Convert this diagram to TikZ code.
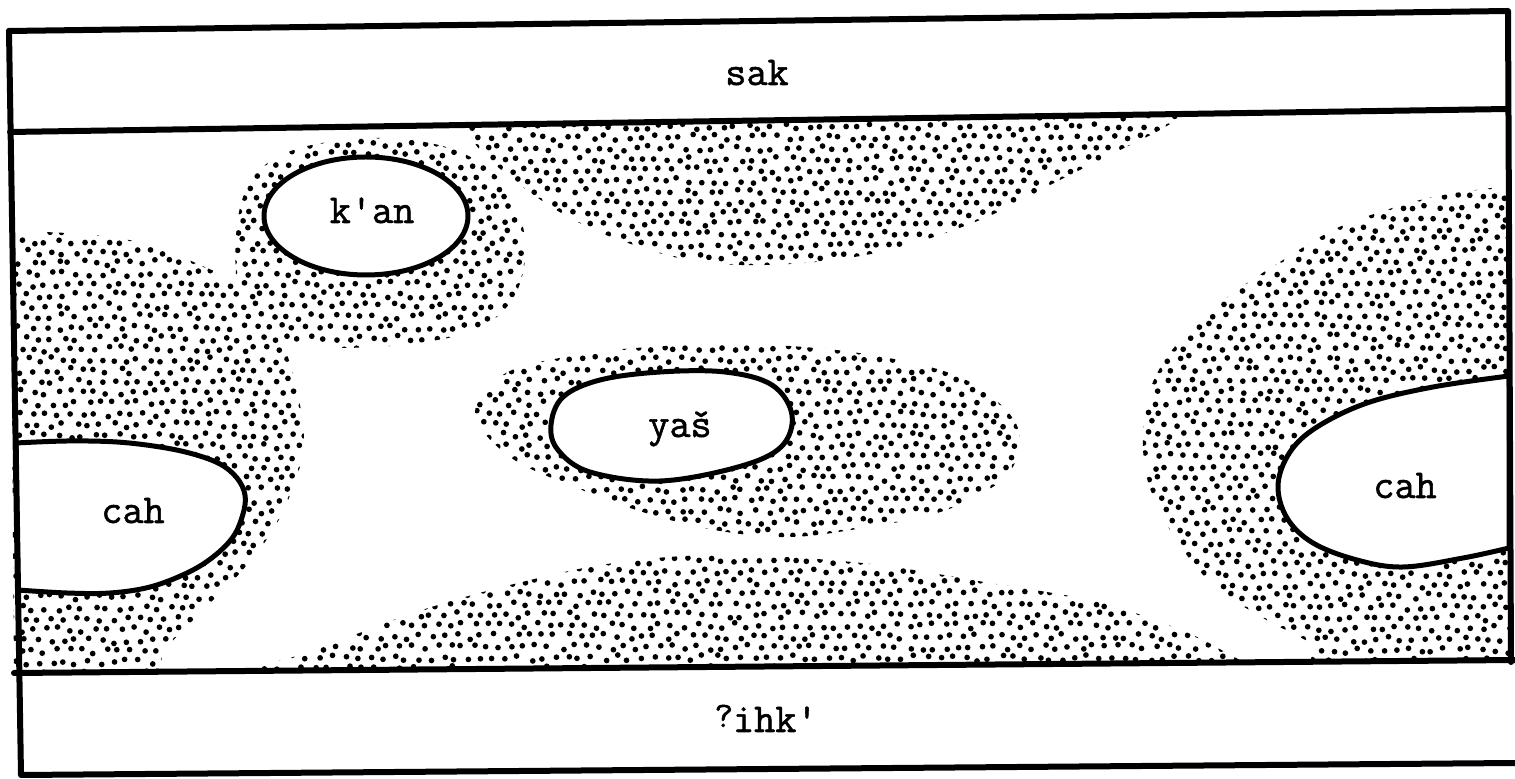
\documentclass[tikz,border=0pt]{standalone}
\usepackage{fontspec}
\newfontfamily\twfont[FakeBold=1.3]{Latin Modern Mono}
\newcommand\lblfont{\twfont\fontsize{20.5}{24}\selectfont}
\newcommand\dotfield[4]{%
  \foreach \jj in {0,...,#4} {
    \fill[black] \foreach \ii in {0,...,#3} {
      ({#1+\ii*12.4+mod(\jj,2)*6.2+3*rand},{#2+\jj*10.8+3*rand}) circle (2.85)
    };
  }
}
\tikzset{
  frameline/.style={line width=3pt, line cap=round, line join=round},
  holeline/.style={line width=2.5pt, draw=black, fill=white, line join=round},
  txt/.style={font=\lblfont, anchor=base, inner sep=0pt},
}
\begin{document}
\begin{tikzpicture}[x=0.5pt,y=-0.5pt]
\pgfmathsetseed{4242}
\fill[white] (0,0) rectangle (1515,779);
\useasboundingbox (0,0) rectangle (1515,779);

% ---------- stippled regions ----------
\begin{scope}
  \clip (10,131) -- (1508,108) -- (1511,662) -- (14,673) -- cycle;
  % top blob
  \begin{scope}
    \clip plot[smooth cycle, tension=0.6] coordinates {(455,100) (468,128) (480,150) (520,185) (570,218) (625,242) (700,262) (790,264) (885,251) (980,220) (1060,180) (1120,150) (1160,130) (1190,110) (1200,95) (830,80)};
    \dotfield{462}{105}{60}{16}
  \end{scope}
  % bottom blob
  \begin{scope}
    \clip plot[smooth cycle, tension=0.6] coordinates {(240,690) (255,667) (290,658) (333,643) (422,610) (518,583) (614,563) (722,555) (862,563) (990,583) (1098,602) (1181,630) (1225,652) (1250,668) (1260,690) (750,700)};
    \dotfield{245}{550}{83}{12}
  \end{scope}
  % left blob + k'an blob
  \begin{scope}
    \clip plot[smooth cycle, tension=0.6] coordinates {(-20,270) (20,237) (67,233) (143,243) (207,268) (240,285) (270,320) (292,370) (304,440) (293,487) (273,530) (240,573) (200,613) (165,650) (140,690) (-20,690)}
          plot[smooth cycle, tension=0.6] coordinates {(237,225) (255,175) (300,148) (380,138) (455,150) (505,185) (525,240) (515,295) (475,330) (400,345) (320,347) (270,335) (240,300)};
    \dotfield{8}{133}{43}{51}
  \end{scope}
  % yas blob
  \begin{scope}
    \clip plot[smooth cycle, tension=0.6] coordinates {(475,413) (506,373) (577,355) (649,347) (738,344) (827,349) (899,360) (952,374) (990,395) (1018,428) (1014,465) (985,492) (934,514) (863,528) (791,537) (720,531) (649,514) (577,488) (510,457)};
    \dotfield{470}{338}{45}{19}
  \end{scope}
  % right blob
  \begin{scope}
    \clip plot[smooth cycle, tension=0.6] coordinates {(1143,433) (1150,390) (1167,357) (1193,327) (1233,293) (1283,260) (1333,230) (1377,213) (1433,197) (1500,187) (1540,185) (1540,690) (1330,668) (1313,645) (1263,618) (1213,585) (1173,535) (1148,482)};
    \dotfield{1135}{175}{31}{46}
  \end{scope}
\end{scope}

% ---------- white holes ----------
\filldraw[holeline] (366,216) ellipse [x radius=102, y radius=59];
\filldraw[holeline] plot[smooth cycle, tension=0.6] coordinates {(551,425) (563,397) (600,380) (660,372) (725,372) (772,385) (792,415) (781,447) (738,467) (660,481) (590,472) (558,450)};
\filldraw[holeline] plot[smooth, tension=0.6] coordinates {(16,443) (67,441) (117,442) (160,447) (193,454) (220,464) (237,478) (245,495) (243,514) (233,537) (213,557) (187,573) (150,587) (110,593) (67,593) (18,590)} -- cycle;
\filldraw[holeline] plot[smooth, tension=0.6] coordinates {(1509,376) (1433,387) (1367,403) (1317,427) (1290,452) (1278,485) (1287,518) (1313,543) (1357,560) (1403,567) (1463,558) (1509,548)} -- cycle;

% ---------- frame ----------
\draw[frameline] (9,31) -- (1508,11) -- (1511,662);
\draw[frameline] (9,31) -- (21,775) -- (1515,763);
\draw[frameline] (10,132) -- (1508,109);
\draw[frameline] (14,673) -- (1515,660);

% ---------- labels ----------
\node[txt] (sak) at (757,85) {sak};
\node[txt] (kan) at (372,223) {k\textquotesingle an};
\node[txt] (yas) at (680,437) {yaš};
\node[txt] (cahL) at (133,523) {cah};
\node[txt] (cahR) at (1405,498) {cah};
\node[txt] (ihk) at (766,732) {\raisebox{2.5pt}{\fontsize{18}{18}\selectfont ?}ihk\textquotesingle};
\end{tikzpicture}
\end{document}
